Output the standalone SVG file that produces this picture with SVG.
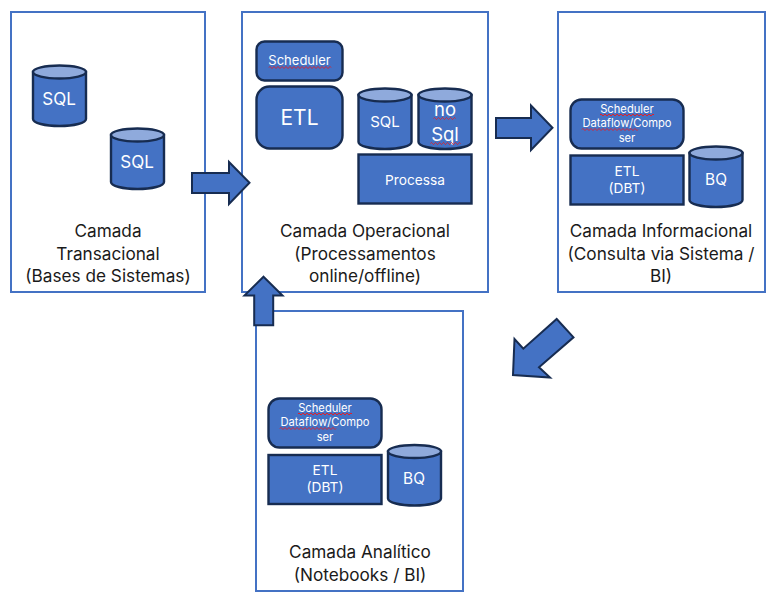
<svg xmlns="http://www.w3.org/2000/svg" width="772" height="596" viewBox="0 0 772 596">
<style>
text{font-family:Inter,"Open Sans","Liberation Sans",sans-serif;text-anchor:middle}
.layer{fill:#fff;stroke:#4472c4;stroke-width:2}
.s{fill:#4472c4;stroke:#172c51;stroke-width:2.400}
.top{fill:#8faadc;stroke:#172c51;stroke-width:2.400}
.arrow{fill:#4472c4;stroke:#172c51;stroke-width:2;stroke-linejoin:miter}
.cap{fill:#1a1a1a;font-size:17.200px}
.w{fill:#fff}
.sq{fill:none;stroke:#e0202a;stroke-width:1}
</style>
<defs>
<g id="cyl">
<path class="s" d="M0 7V54C0 58 12 61 26.500 61S53 58 53 54V7Z"/>
<ellipse class="top" cx="26.500" cy="7" rx="26.500" ry="6.500"/>
</g>
<path id="sq-sched" class="sq" d="M0 0q1-2 2 0t2 0t2 0t2 0t2 0t2 0t2 0t2 0t2 0t2 0t2 0t2 0t2 0t2 0t2 0t2 0t2 0t2 0t2 0t2 0t2 0t2 0t2 0t2 0t2 0t2 0t2 0"/>
<path id="sq-flow" class="sq" d="M0 0q1-2 2 0t2 0t2 0t2 0t2 0t2 0t2 0t2 0t2 0t2 0t2 0t2 0t2 0t2 0t2 0t2 0t2 0t2 0t2 0t2 0t2 0t2 0t2 0t2 0t2 0t2 0t2 0t2 0"/>
</defs>
<g id="layer-transacional">
<rect class="layer" x="11" y="12" width="194" height="280"/>
<text class="cap" x="108" y="237">Camada</text>
<text class="cap" x="108" y="260">Transacional</text>
<text class="cap" x="108" y="282">(Bases de Sistemas)</text>
</g>
<g id="layer-operacional">
<rect class="layer" x="242" y="12" width="246" height="280"/>
<text class="cap" x="365" y="237">Camada Operacional</text>
<text class="cap" x="365" y="260">(Processamentos</text>
<text class="cap" x="365" y="282">online/offline)</text>
</g>
<g id="layer-informacional">
<rect class="layer" x="558" y="12" width="207" height="280"/>
<text class="cap" x="661" y="237">Camada Informacional</text>
<text class="cap" x="661" y="260">(Consulta via Sistema /</text>
<text class="cap" x="661" y="282">BI)</text>
</g>
<g id="layer-analitico">
<rect class="layer" x="256" y="311" width="207" height="280"/>
<text class="cap" x="360" y="558">Camada Analítico</text>
<text class="cap" x="360" y="581">(Notebooks / BI)</text>
</g>
<g id="sql-1"><use href="#cyl" x="33" y="65"/><text class="w" x="59" y="105" font-size="17">SQL</text></g>
<g id="sql-2"><use href="#cyl" x="111" y="128"/><text class="w" x="137" y="168" font-size="17">SQL</text></g>
<g id="scheduler-op">
<rect class="s" x="256.500" y="41.500" width="86" height="39" rx="8"/>
<text class="w" x="299.500" y="65" font-size="13">Scheduler</text>
<path class="sq" d="M269 67.500q1-2 2 0t2 0t2 0t2 0t2 0t2 0t2 0t2 0t2 0t2 0t2 0t2 0t2 0t2 0t2 0t2 0t2 0t2 0t2 0t2 0t2 0t2 0t2 0t2 0t2 0t2 0t2 0t2 0t2 0t2 0t2 0"/>
</g>
<g id="etl-op">
<rect class="s" x="256.500" y="86.500" width="86" height="62" rx="13"/>
<text class="w" x="299.500" y="125" font-size="21">ETL</text>
</g>
<g id="sql-op"><use href="#cyl" x="358.500" y="88"/><text class="w" x="385" y="127" font-size="15">SQL</text></g>
<g id="nosql-op">
<use href="#cyl" x="418.500" y="88"/>
<text class="w" x="445" y="116" font-size="18.500">no</text>
<text class="w" x="445" y="141" font-size="18.500">Sql</text>
<path class="sq" d="M433.500 118.500q1-2 2 0t2 0t2 0t2 0t2 0t2 0t2 0t2 0t2 0t2 0t2 0"/>
<path class="sq" d="M430.500 143.500q1-2 2 0t2 0t2 0t2 0t2 0t2 0t2 0t2 0t2 0t2 0t2 0t2 0t2 0t2 0t2 0"/>
</g>
<g id="processa-op">
<rect class="s" x="358.500" y="154.500" width="113" height="49"/>
<text class="w" x="415" y="185" font-size="13.700">Processa</text>
</g>
<g id="scheduler-inf">
<rect class="s" x="570.500" y="99.500" width="113" height="49" rx="11"/>
<text class="w" x="627" y="113" font-size="11.200">Scheduler</text>
<text class="w" x="627" y="127" font-size="11.200">Dataflow/Compo</text>
<text class="w" x="627" y="142" font-size="11.200">ser</text>
<use href="#sq-sched" x="600" y="115"/>
<use href="#sq-flow" x="582" y="129.500"/>
</g>
<g id="etl-inf">
<rect class="s" x="570.500" y="155.500" width="113" height="49"/>
<text class="w" x="627" y="176" font-size="13.700">ETL</text>
<text class="w" x="627" y="193" font-size="13.700">(DBT)</text>
</g>
<g id="bq-inf"><use href="#cyl" x="689.500" y="146"/><text class="w" x="716" y="185" font-size="15.400">BQ</text></g>
<g id="scheduler-ana">
<rect class="s" x="268.500" y="398.500" width="113" height="49" rx="11"/>
<text class="w" x="325" y="412" font-size="11.200">Scheduler</text>
<text class="w" x="325" y="426" font-size="11.200">Dataflow/Compo</text>
<text class="w" x="325" y="441" font-size="11.200">ser</text>
<use href="#sq-sched" x="298" y="414"/>
<use href="#sq-flow" x="280" y="428.500"/>
</g>
<g id="etl-ana">
<rect class="s" x="268.500" y="455" width="113" height="49"/>
<text class="w" x="325" y="475" font-size="13.700">ETL</text>
<text class="w" x="325" y="492" font-size="13.700">(DBT)</text>
</g>
<g id="bq-ana"><use href="#cyl" x="388" y="444.500"/><text class="w" x="414" y="484" font-size="15.400">BQ</text></g>
<g id="connectors">
<path class="arrow" d="M192 173H229V162L249.500 182.700L229 204V193H192Z"/>
<path class="arrow" d="M496 118H531V105.500L552.500 127.700L531 150V138H496Z"/>
<path class="arrow" d="M556.700 319L573.500 337.300L539 367.300L550 377.500L513 375L514.500 339L523.300 348.700Z"/>
<path class="arrow" d="M263.500 276.700L282.500 295.500H273.200V325.200H254.200V295.500H244.500Z"/>
</g>
</svg>
